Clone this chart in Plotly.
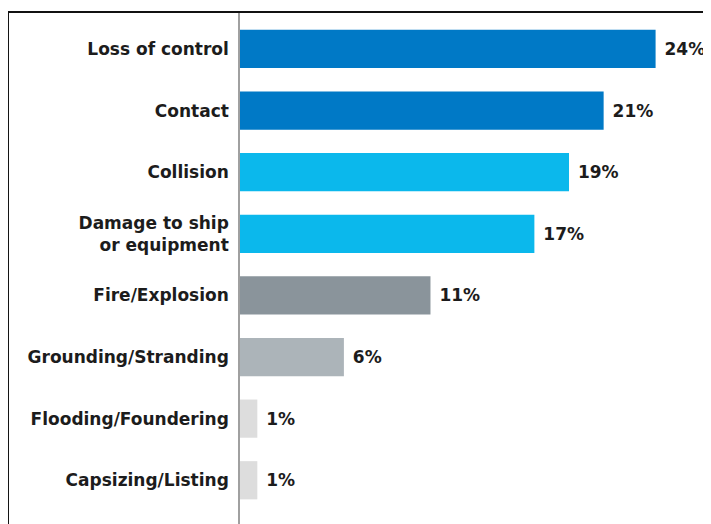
import plotly.graph_objects as go

### chart data
categories = ["Loss of control", "Contact", "Collision", "Damage to ship<br>or equipment",
              "Fire/Explosion", "Grounding/Stranding", "Flooding/Foundering", "Capsizing/Listing"]
shares = [24, 21, 19, 17, 11, 6, 1, 1]
bar_colors = ["#0079C6", "#0079C6", "#0BB8EC", "#0BB8EC",
              "#8A949B", "#ACB4B9", "#DDDDDD", "#DDDDDD"]

label_font = dict(family="DejaVu Sans", size=17, color="#1c1c1c", weight="bold")

fig = go.Figure(go.Bar(
    x=shares,
    y=categories,
    orientation="h",
    marker=dict(color=bar_colors, line=dict(width=0)),
    width=0.62,
    text=[f" {v}%" for v in shares],
    textposition="outside",
    cliponaxis=False,
    textfont=label_font,
))

### axes
fig.update_xaxes(range=[0, 27.2], visible=False, showgrid=False, zeroline=False)
fig.update_yaxes(range=[7.71, -0.6], showgrid=False, zeroline=False,
                 showline=True, linecolor="#a0a0a0", linewidth=1.5,
                 ticks="", ticklabelstandoff=6,
                 tickfont=label_font)

### frame around the picture (top and left edges)
fig.add_shape(type="line", xref="paper", yref="paper", x0=-0.4926, x1=1.05, y0=1, y1=1,
              line=dict(color="#111111", width=2))
fig.add_shape(type="line", xref="paper", yref="paper", x0=-0.4926, x1=-0.4926, y0=1, y1=-0.05,
              line=dict(color="#111111", width=2))

### page body has an 8px margin, so shift everything back by that
fig.update_layout(
    width=703, height=516,
    margin=dict(t=4, l=232, r=0, b=0),
    plot_bgcolor="white", paper_bgcolor="white",
    showlegend=False,
    font=dict(family="DejaVu Sans"),
)

fig.write_html("out.html")
